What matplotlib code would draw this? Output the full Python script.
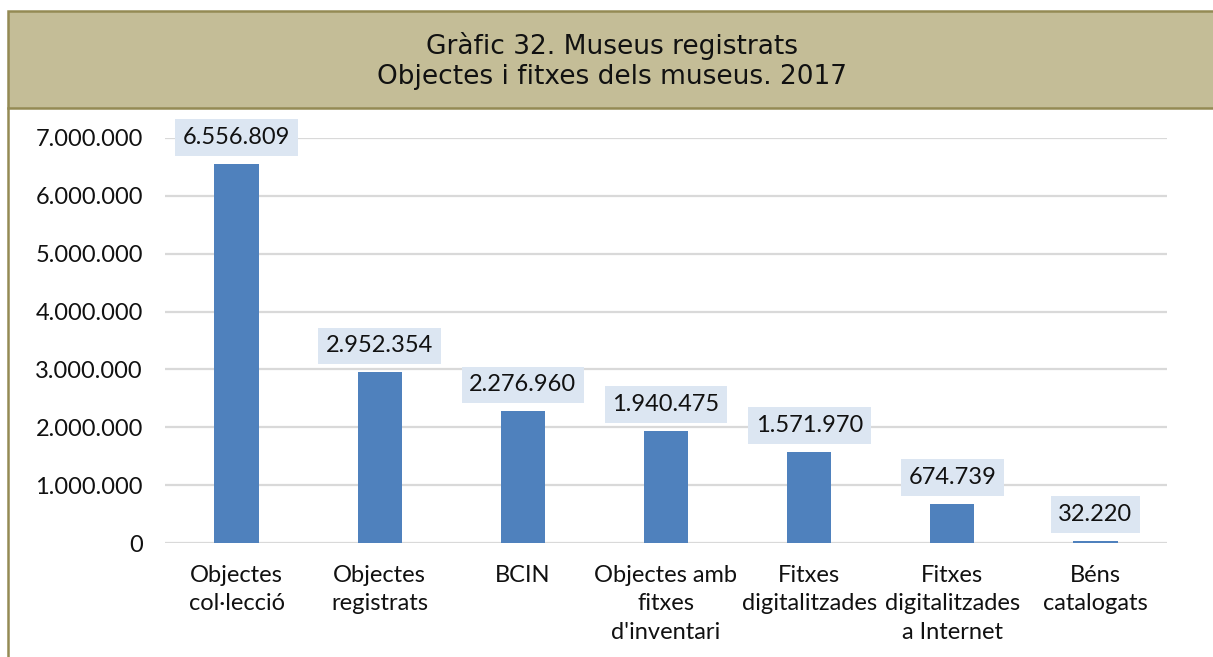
import matplotlib
matplotlib.use("Agg")
import matplotlib.pyplot as plt
from matplotlib.patches import Rectangle
from matplotlib.lines import Line2D
from matplotlib.ticker import FuncFormatter

categories = ["Objectes\ncol·lecció", "Objectes\nregistrats", "BCIN",
              "Objectes amb\nfitxes\nd'inventari", "Fitxes\ndigitalitzades",
              "Fitxes\ndigitalitzades\na Internet", "Béns\ncatalogats"]
values = [6556809, 2952354, 2276960, 1940475, 1571970, 674739, 32220]
yticks = [0, 1000000, 2000000, 3000000, 4000000, 5000000, 6000000, 7000000]

title = "Gràfic 32. Museus registrats\nObjectes i fitxes dels museus. 2017"


def dots(v, pos=None):
    return f"{int(v):,}".replace(",", ".")


W, H = 1213, 657
fig = plt.figure(figsize=(W / 100, H / 100), dpi=100)
fig.patch.set_facecolor("white")

# title band
band = Rectangle((8 / W, 1 - 108 / H), 1.0, (108 - 11) / H, transform=fig.transFigure,
                 facecolor="#C4BD97", edgecolor="#948A54", linewidth=1.8, zorder=0)
fig.patches.append(band)
fig.lines.append(Line2D([8 / W, 8 / W], [0, 1 - 108 / H], transform=fig.transFigure,
                        color="#948A54", linewidth=1.8))
fig.text(612 / W, 1 - 61 / H, title, ha="center", va="center", fontsize=19,
         family="DejaVu Sans", color="#111111", linespacing=1.2)

ax = fig.add_axes([165 / W, 1 - 543 / H, (1167 - 165) / W, (543 - 138) / H])
x = range(len(values))
ax.bar(x, values, width=0.31, color="#4F81BD", zorder=3)
ax.set_xlim(-0.5, len(values) - 0.5)
ax.set_ylim(0, 7000000)
ax.set_yticks(yticks)
ax.yaxis.set_major_formatter(FuncFormatter(dots))
ax.set_xticks(list(x))
ax.set_xticklabels(categories, family="Lato", fontsize=17, linespacing=1.42, color="#111111")
for lab in ax.get_yticklabels():
    lab.set_family("Lato")
    lab.set_fontsize(17)
    lab.set_color("#111111")
ax.tick_params(axis="y", length=0, pad=16)
ax.tick_params(axis="x", length=0, pad=16)
ax.grid(axis="y", color="#D9D9D9", linewidth=1.6, zorder=0)
ax.set_axisbelow(True)
for s in ax.spines.values():
    s.set_visible(False)

for i, v in enumerate(values):
    ax.annotate(dots(v), (i, v), xytext=(0, 19), textcoords="offset points",
                ha="center", va="center", family="Lato", fontsize=17, color="#111111",
                bbox=dict(boxstyle="square,pad=0.33", facecolor="#DCE6F2", edgecolor="none"),
                zorder=5)

fig.savefig("out.png", dpi=100)
